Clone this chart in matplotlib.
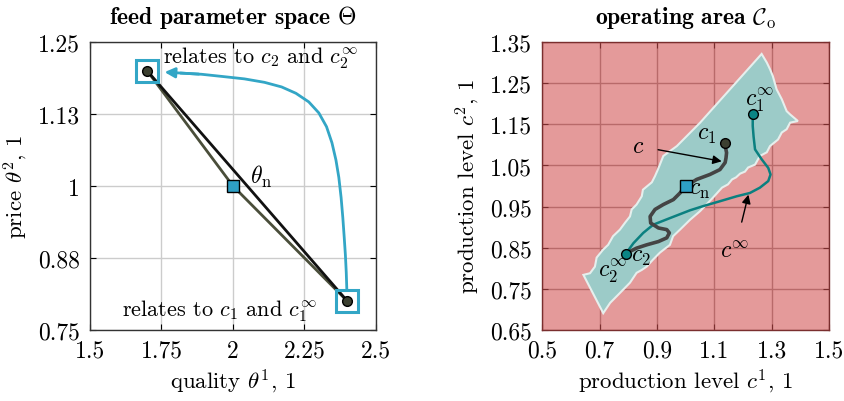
import matplotlib
matplotlib.use("Agg")
import matplotlib.pyplot as plt
import numpy as np

plt.rcParams['font.family'] = 'serif'
plt.rcParams['font.serif'] = ['cmr10']
plt.rcParams['mathtext.fontset'] = 'cm'
plt.rcParams['axes.formatter.use_mathtext'] = True
plt.rcParams['font.size'] = 17

# feed parameter space
theta_pts_x = [1.7, 2.0, 2.4]
theta_pts_y = [1.2, 1.0, 0.8]
theta_n = (2.0, 1.0)
# curve of the blue arrow (from theta_1 to theta_2)
arrow_x = [2.398, 2.396, 2.393, 2.389, 2.384, 2.378, 2.370, 2.360, 2.346, 2.327, 2.300,
           2.265, 2.220, 2.170, 2.110, 2.040, 1.966, 1.890, 1.820, 1.751]
arrow_y = [0.820, 0.850, 0.880, 0.910, 0.945, 0.980, 1.015, 1.045, 1.075, 1.103, 1.127,
           1.146, 1.161, 1.172, 1.180, 1.186, 1.190, 1.194, 1.196, 1.198]
left_xticks = [1.5, 1.75, 2.0, 2.25, 2.5]
left_xlabels = ['1.5', '1.75', '2', '2.25', '2.5']
left_yticks = [0.75, 0.875, 1.0, 1.125, 1.25]
left_ylabels = ['0.75', '0.88', '1', '1.13', '1.25']

# operating area boundary
area_x = [1.264, 1.282, 1.293, 1.303, 1.316, 1.334, 1.351, 1.363, 1.390, 1.363, 1.351, 1.334,
          1.321, 1.293, 1.282, 1.258, 1.241, 1.217, 1.206, 1.189, 1.175, 1.161, 1.147, 1.126,
          1.095, 1.050, 1.015, 0.980, 0.956, 0.945, 0.910, 0.886, 0.864, 0.847, 0.829, 0.806,
          0.771, 0.737, 0.713, 0.644, 0.667, 0.684, 0.690, 0.712, 0.730, 0.747, 0.771, 0.789,
          0.806, 0.812, 0.829, 0.847, 0.851, 0.882, 0.893, 0.903, 0.922, 0.969, 1.050]
area_y = [1.321, 1.300, 1.284, 1.267, 1.235, 1.211, 1.182, 1.174, 1.158, 1.154, 1.138, 1.130,
          1.113, 1.097, 1.082, 1.073, 1.052, 1.045, 1.035, 1.030, 1.021, 1.016, 1.004, 0.996,
          0.972, 0.939, 0.918, 0.894, 0.878, 0.857, 0.838, 0.821, 0.804, 0.796, 0.789, 0.765,
          0.740, 0.716, 0.691, 0.784, 0.788, 0.804, 0.826, 0.845, 0.857, 0.878, 0.894, 0.911,
          0.926, 0.943, 0.955, 0.975, 0.991, 1.009, 1.024, 1.040, 1.073, 1.097, 1.154]

# production trajectory c (c1 -> cn -> c2)
c_x = [1.135, 1.142, 1.140, 1.137, 1.119, 1.084, 1.038, 1.015, 0.998, 0.980, 0.957, 0.922,
       0.893, 0.876, 0.878, 0.905, 0.934, 0.943, 0.934, 0.905, 0.864, 0.829, 0.800, 0.792]
c_y = [1.105, 1.081, 1.068, 1.057, 1.040, 1.028, 1.016, 1.006, 0.999, 0.983, 0.967, 0.955,
       0.943, 0.926, 0.910, 0.898, 0.894, 0.886, 0.874, 0.865, 0.857, 0.849, 0.839, 0.835]
# trajectory c_inf
cinf_x = [1.233, 1.233, 1.236, 1.241, 1.264, 1.287, 1.295, 1.287, 1.258, 1.223, 1.177, 1.119,
          1.060, 1.015, 0.945, 0.887, 0.852, 0.818, 0.795, 0.792]
cinf_y = [1.175, 1.146, 1.120, 1.089, 1.065, 1.044, 1.028, 1.012, 0.996, 0.983, 0.975, 0.963,
          0.951, 0.941, 0.922, 0.906, 0.886, 0.861, 0.839, 0.835]
c1 = (1.135, 1.105)
c1_inf = (1.233, 1.175)
c2 = (0.792, 0.835)
c_n = (1.0, 1.0)
right_xticks = [0.5, 0.7, 0.9, 1.1, 1.3, 1.5]
right_yticks = [0.65, 0.75, 0.85, 0.95, 1.05, 1.15, 1.25, 1.35]

blue = '#33a6c6'
olive = '#3c4030'

fig = plt.figure(figsize=(8.44, 4.02), dpi=100)
ax1 = fig.add_axes([0.1066, 0.1766, 0.3389, 0.7164])
ax2 = fig.add_axes([0.6422, 0.1766, 0.3406, 0.7164])

# ---- left panel
ax1.set_xlim(1.5, 2.5)
ax1.set_ylim(0.75, 1.25)
ax1.set_xticks(left_xticks)
ax1.set_xticklabels(left_xlabels)
ax1.set_yticks(left_yticks)
ax1.set_yticklabels(left_ylabels)
ax1.grid(True, color='#cccccc', lw=1.0)
ax1.set_axisbelow(True)

ax1.plot([theta_pts_x[0], theta_pts_x[2]], [theta_pts_y[0], theta_pts_y[2]], color='#111111', lw=2.0, zorder=3)
ax1.plot(theta_pts_x, theta_pts_y, color='#4a4e3a', lw=2.0, zorder=2)
ax1.plot(arrow_x[:-1], arrow_y[:-1], color=blue, lw=2.0, zorder=3)
ax1.annotate('', xy=(arrow_x[-1], arrow_y[-1]), xytext=(arrow_x[-3], arrow_y[-3]),
             arrowprops=dict(arrowstyle='-|>', color=blue, lw=2.0, mutation_scale=15), zorder=4)
ax1.plot([theta_pts_x[0], theta_pts_x[2]], [theta_pts_y[0], theta_pts_y[2]], 's', ms=16.5,
         mfc='none', mec=blue, mew=2.2, zorder=5)
ax1.plot([theta_pts_x[0], theta_pts_x[2]], [theta_pts_y[0], theta_pts_y[2]], 'o', ms=7,
         mfc=olive, mec='black', mew=1.0, zorder=6)
ax1.plot(*theta_n, 's', ms=8, mfc='#2e9fc5', mec='black', mew=1.0, zorder=6)
ax1.text(1.756, 1.224, r'relates to $c_2$ and $c_2^\infty$', ha='left', va='center', fontsize=16)
ax1.text(1.611, 0.784, r'relates to $c_1$ and $c_1^\infty$', ha='left', va='center', fontsize=16)
ax1.text(2.06, 1.018, r'$\theta_\mathrm{n}$', ha='left', va='center', fontsize=17)
ax1.set_xlabel(r'quality $\theta^1$, 1', fontsize=16.5, labelpad=4)
ax1.set_ylabel(r'price $\theta^2$, 1', fontsize=16.5, labelpad=6)
ax1.set_title(r'feed parameter space $\Theta$', fontfamily='cmb10', fontsize=17, pad=14)

# ---- right panel
ax2.set_xlim(0.5, 1.5)
ax2.set_ylim(0.65, 1.35)
ax2.set_xticks(right_xticks)
ax2.set_yticks(right_yticks)
ax2.set_xticklabels([f'{v:g}' for v in right_xticks])
ax2.set_yticklabels([f'{v:.2f}' for v in right_yticks])
ax2.set_facecolor('#e49a9a')
ax2.grid(True, color='#b86a6a', lw=1.0)
ax2.set_axisbelow(True)

ax2.fill(area_x, area_y, facecolor='#9ccbc8', edgecolor='#e6efed', lw=1.5, zorder=2)
ax2.plot(cinf_x, cinf_y, color='#0b8080', lw=1.8, zorder=3)
ax2.plot(c_x, c_y, color='#444444', lw=2.6, zorder=4)
ax2.plot(*c1, 'o', ms=7, mfc=olive, mec='black', mew=1.0, zorder=6)
ax2.plot(*c1_inf, 'o', ms=7, mfc='#0b8585', mec='black', mew=1.0, zorder=6)
ax2.plot(*c2, 'o', ms=7, mfc='#0b8585', mec='black', mew=1.0, zorder=6)
ax2.plot(*c_n, 's', ms=8, mfc='#2e9fc5', mec='black', mew=1.0, zorder=6)
ax2.text(1.073, 1.126, r'$c_1$', ha='center', va='center', fontsize=17)
ax2.text(1.258, 1.208, r'$c_1^\infty$', ha='center', va='center', fontsize=17)
ax2.text(1.013, 0.992, r'$c_\mathrm{n}$', ha='left', va='center', fontsize=17)
ax2.text(0.81, 0.829, r'$c_2$', ha='left', va='center', fontsize=17)
ax2.text(0.745, 0.793, r'$c_2^\infty$', ha='center', va='center', fontsize=17)
ax2.annotate(r'$c$', xy=(1.125, 1.060), xytext=(0.835, 1.097), fontsize=17, ha='center', va='center',
             arrowprops=dict(arrowstyle='-|>', color='black', lw=1.0, mutation_scale=13, shrinkA=8, shrinkB=0))
ax2.annotate(r'$c^\infty$', xy=(1.218, 0.979), xytext=(1.17, 0.842), fontsize=17, ha='center', va='center',
             arrowprops=dict(arrowstyle='-|>', color='black', lw=1.0, mutation_scale=13, shrinkA=11, shrinkB=0))
ax2.set_xlabel(r'production level $c^1$, 1', fontsize=16.5, labelpad=4)
ax2.set_ylabel(r'production level $c^2$, 1', fontsize=16.5, labelpad=6)
ax2.set_title(r'operating area $\mathcal{C}_\mathrm{o}$', fontfamily='cmb10', fontsize=17, pad=14)

for ax in (ax1, ax2):
    ax.tick_params(direction='in', top=True, right=True, length=4, labelsize=17, pad=7)
    for s in ax.spines.values():
        s.set_color('#333333')
        s.set_linewidth(1.0)
for s in ax2.spines.values():
    s.set_color('#7a2e2e')
ax2.tick_params(colors='#7a2e2e', labelcolor='black')

fig.savefig('out.png', dpi=100)
